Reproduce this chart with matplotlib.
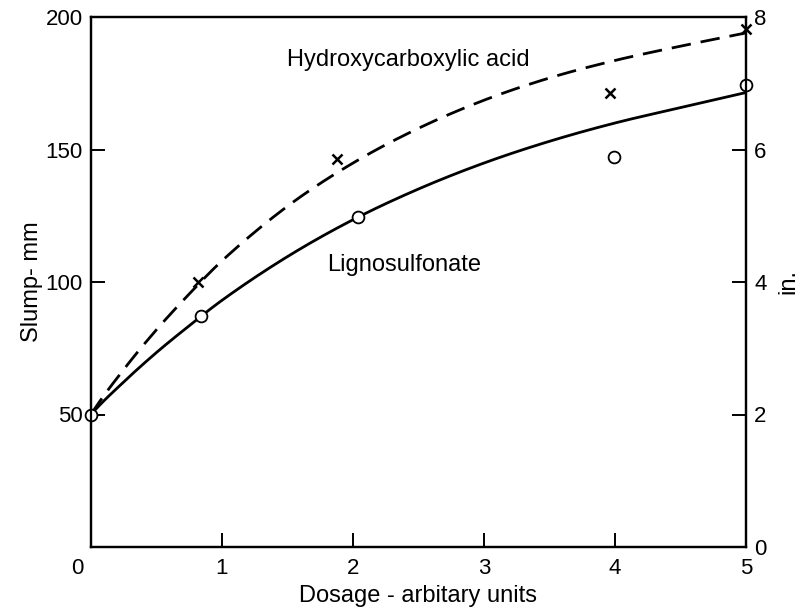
import matplotlib
matplotlib.use("Agg")
import matplotlib.pyplot as plt
import matplotlib.transforms as mtransforms
import numpy as np

plt.rcParams['font.family'] = ['Liberation Sans', 'DejaVu Sans']

# Measured points
ligno_x = [0.0, 0.84, 2.04, 3.99, 5.0]
ligno_y = [50, 87, 124.5, 147, 174.5]
hydro_x = [0.82, 1.88, 3.96, 5.0]
hydro_y = [100, 146.5, 171.5, 195.5]

# Curves
curve_x = [0.0, 0.25, 0.5, 0.75, 1.0, 1.5, 2.0, 2.5, 3.0, 3.5, 4.0, 4.5, 5.0]
ligno_curve = [50, 62.3, 73.4, 83.5, 93.1, 109.6, 123.5, 135.1, 144.9, 153.1, 160.0, 165.8, 171.5]
hydro_curve = [50, 67.0, 82.0, 95.5, 108.0, 128.6, 144.9, 158.0, 168.6, 177.0, 183.6, 189.0, 194.0]

xticks = [0, 1, 2, 3, 4, 5]
yticks_mm = [0, 50, 100, 150, 200]
yticks_in = [0, 2, 4, 6, 8]

fig = plt.figure(figsize=(8.03, 6.09), dpi=100)
ax = fig.add_axes([91/803, 1-547/609, (746-91)/803, (547-17)/609])

def smooth(xs, ys, n=300):
    xs = np.asarray(xs); ys = np.asarray(ys, dtype=float)
    xx = np.linspace(xs[0], xs[-1], n)
    d = np.diff(ys) / np.diff(xs)
    m = np.empty_like(ys)
    m[1:-1] = (d[:-1] + d[1:]) / 2
    m[0] = d[0] * 1.15
    m[-1] = d[-1]
    idx = np.clip(np.searchsorted(xs, xx) - 1, 0, len(xs) - 2)
    h = xs[idx + 1] - xs[idx]
    t = (xx - xs[idx]) / h
    h00 = 2*t**3 - 3*t**2 + 1
    h10 = t**3 - 2*t**2 + t
    h01 = -2*t**3 + 3*t**2
    h11 = t**3 - t**2
    yy = h00*ys[idx] + h10*h*m[idx] + h01*ys[idx+1] + h11*h*m[idx+1]
    return xx, yy

lx, ly = smooth(curve_x, ligno_curve)
hx, hy = smooth(curve_x, hydro_curve)

ax.plot(lx, ly, color='black', lw=2.0, solid_capstyle='round', zorder=3)
ax.plot(hx, hy, color='black', lw=2.0, dashes=(7, 3.6), zorder=3)

ax.plot(ligno_x, ligno_y, linestyle='none', marker='o', ms=8.5, mfc='white',
        mec='black', mew=1.3, zorder=5, clip_on=False)
ax.plot(hydro_x, hydro_y, linestyle='none', marker='x', ms=6.5, color='black',
        mew=1.8, zorder=5, clip_on=False)

ax.set_xlim(0, 5)
ax.set_ylim(0, 200)
ax.set_xticks(xticks)
ax.set_xticklabels([str(v) for v in xticks])
ax.set_yticks(yticks_mm)
ax.set_yticklabels(['' if v == 0 else str(v) for v in yticks_mm])

for s in ax.spines.values():
    s.set_linewidth(1.6)

ax.tick_params(axis='both', direction='in', length=10, width=1.4, labelsize=16,
               colors='black')
ax.tick_params(axis='x', pad=8)
ax.tick_params(axis='y', pad=6)

lbl0 = ax.get_xticklabels()[0]
lbl0.set_transform(lbl0.get_transform() + mtransforms.ScaledTranslation(-0.14, 0, fig.dpi_scale_trans))

ax.set_xlabel('Dosage - arbitary units', fontsize=17, labelpad=4)
ax.set_ylabel('Slump- mm', fontsize=17, labelpad=2)

ax2 = ax.twinx()
ax2.set_ylim(0, 8)
ax2.set_yticks(yticks_in)
ax2.tick_params(axis='y', direction='in', length=10, width=1.4, labelsize=16, pad=6)
for s in ax2.spines.values():
    s.set_linewidth(1.6)
ax2.set_ylabel('in.', fontsize=17, labelpad=8)

ax.text(0.299, 0.919, 'Hydroxycarboxylic acid', transform=ax.transAxes, fontsize=17,
        ha='left', va='center')
ax.text(0.36, 0.532, 'Lignosulfonate', transform=ax.transAxes, fontsize=17,
        ha='left', va='center')

fig.savefig('out.png', dpi=100)
